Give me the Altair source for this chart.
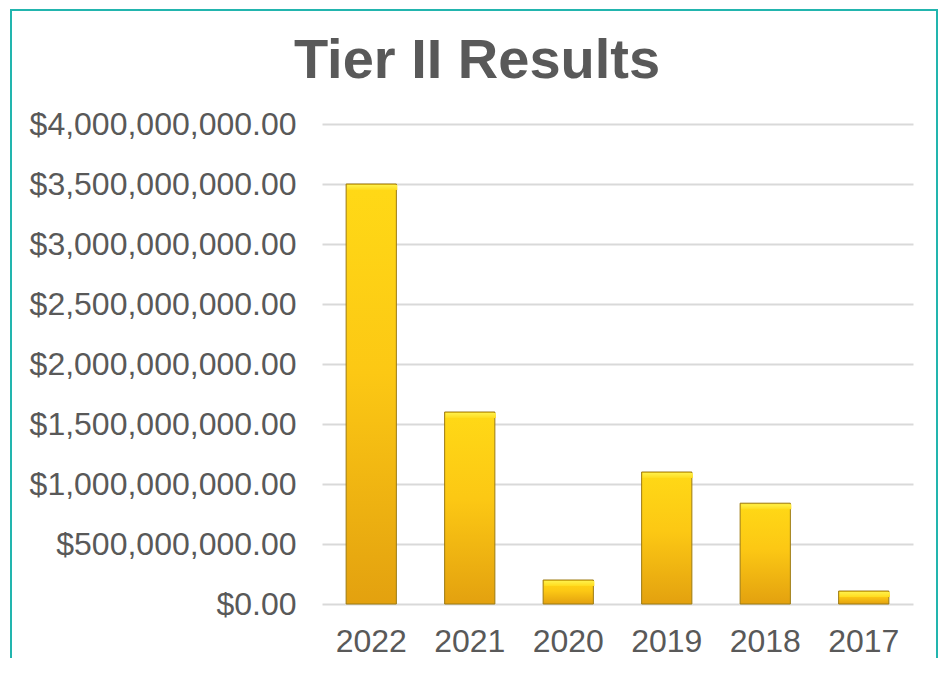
import altair as alt
import pandas as pd

years = ["2022", "2021", "2020", "2019", "2018", "2017"]
values = [3500000000, 1600000000, 200000000, 1100000000, 840000000, 108000000]
y_ticks = [0, 500000000, 1000000000, 1500000000, 2000000000, 2500000000, 3000000000, 3500000000, 4000000000]
title_text = "Tier II Results"

df = pd.DataFrame({"year": years, "value": values})

grad = alt.Gradient(
    gradient="linear",
    stops=[alt.GradientStop(color="#FFD916", offset=0),
           alt.GradientStop(color="#FCC814", offset=0.45),
           alt.GradientStop(color="#E3A10F", offset=1)],
    x1=0, x2=0, y1=0, y2=1,
)

x_enc = alt.X("year:N", sort=None, title=None,
              scale=alt.Scale(paddingInner=0.49, paddingOuter=0.245),
              axis=alt.Axis(labelAngle=0, domain=False, ticks=False, grid=False, labelPadding=22,
                            labelFontSize=32, labelColor="#595959", labelFont="Liberation Sans"))
y_enc = alt.Y("value:Q", title=None,
              scale=alt.Scale(domain=[0, 4000000000], nice=False),
              axis=alt.Axis(values=y_ticks, format="$,.2f", domain=False, ticks=False,
                            labelPadding=26, labelFontSize=32, labelColor="#595959", labelLimit=0,
                            labelFont="Liberation Sans", gridColor="#D9D9D9", gridWidth=2))

bars = alt.Chart(df).mark_bar(color=grad, stroke="#9C7A12", strokeWidth=1).encode(
    x=x_enc, y=y_enc,
)

highlight = alt.Chart(df).mark_bar(
    color=alt.Gradient(gradient="linear",
                       stops=[alt.GradientStop(color="#FFF04A", offset=0),
                              alt.GradientStop(color="#FFDC1E", offset=1)],
                       x1=0, x2=0, y1=0, y2=1),
    y2Offset=6, xOffset=1, x2Offset=-1, yOffset=1,
).encode(
    x=alt.X("year:N", sort=None), y="value:Q", y2="value:Q",
)

border = alt.Chart(alt.Data(values=[{"a": 1}])).mark_rect(
    filled=False, stroke="#22B5AE", strokeWidth=2
).encode(
    x=alt.value(-311), x2=alt.value(615), y=alt.value(-114), y2=alt.value(580)
)

title = alt.Chart(alt.Data(values=[{"t": title_text}])).mark_text(
    fontSize=56, fontWeight="bold", color="#595959", font="Liberation Sans",
    align="center", baseline="alphabetic"
).encode(
    text="t:N", x=alt.value(155), y=alt.value(-46)
)

chart = alt.layer(border, bars, highlight, title).properties(
    width=591, height=480,
    background="white",
    autosize=alt.AutoSizeParams(type="none"),
    padding={"left": 314, "top": 116, "right": 26, "bottom": 54},
).configure_view(stroke="transparent", strokeWidth=0)

chart.save("out.html", embed_options={"renderer": "svg", "actions": False})
